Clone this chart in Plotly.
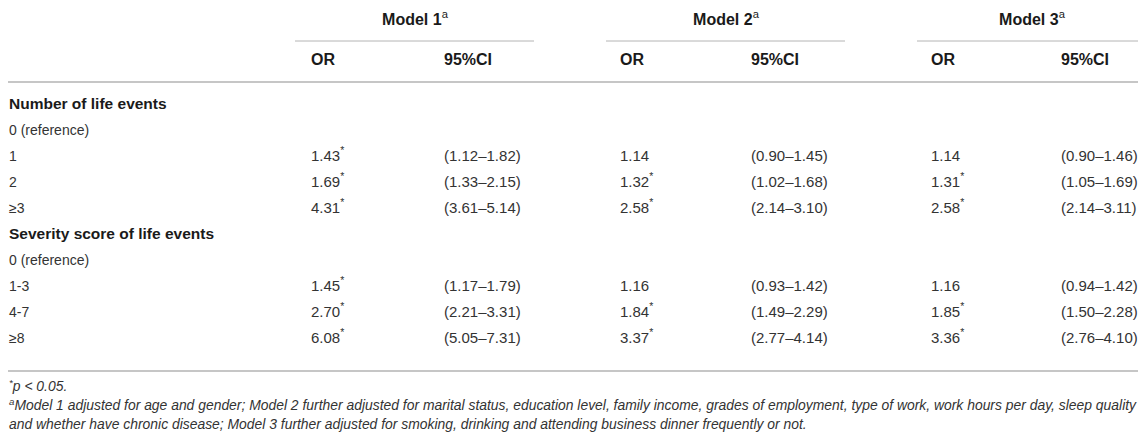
import plotly.graph_objects as go

# table content
row_labels = ["Number of life events", "0 (reference)", "1", "2", "\u22653",
              "Severity score of life events", "0 (reference)", "1-3", "4-7", "\u22658"]
section_rows = [0, 5]

models = ["Model 1", "Model 2", "Model 3"]
sub_headers = ["OR", "95%CI"]

model1_or = ["", "", "1.43*", "1.69*", "4.31*", "", "", "1.45*", "2.70*", "6.08*"]
model1_ci = ["", "", "(1.12\u20131.82)", "(1.33\u20132.15)", "(3.61\u20135.14)", "", "",
             "(1.17\u20131.79)", "(2.21\u20133.31)", "(5.05\u20137.31)"]
model2_or = ["", "", "1.14", "1.32*", "2.58*", "", "", "1.16", "1.84*", "3.37*"]
model2_ci = ["", "", "(0.90\u20131.45)", "(1.02\u20131.68)", "(2.14\u20133.10)", "", "",
             "(0.93\u20131.42)", "(1.49\u20132.29)", "(2.77\u20134.14)"]
model3_or = ["", "", "1.14", "1.31*", "2.58*", "", "", "1.16", "1.85*", "3.36*"]
model3_ci = ["", "", "(0.90\u20131.46)", "(1.05\u20131.69)", "(2.14\u20133.11)", "", "",
             "(0.94\u20131.42)", "(1.50\u20132.28)", "(2.76\u20134.10)"]

footnotes = [
    "<sup>*</sup>p < 0.05.",
    "<sup>a</sup>Model 1 adjusted for age and gender; Model 2 further adjusted for marital status, "
    "education level, family income, grades of employment, type of work, work hours per day, sleep quality",
    "and whether have chronic disease; Model 3 further adjusted for smoking, drinking and attending "
    "business dinner frequently or not.",
]

# layout constants, in screen pixels (page body has an 8px margin)
W, H = 1146, 432
OFF = 8
FONT = "Liberation Sans, Arial, sans-serif"
DARK = "#1a1a1a"
TEXT = "#333333"
THICK_LINE = "#c6c6c6"
THIN_LINE = "#b4b4b4"

label_x = 9
or_x = [311, 620, 931]
ci_x = [444, 751, 1061]
group_span = [(295, 534), (606, 845), (917, W + OFF)]
row_top, row_step = 105, 26.0
row_y = [row_top + i * row_step for i in range(len(row_labels))]
model_y, sub_y = 21, 61
foot_y = [388, 407, 426]


def star(s):
    return s.replace("*", "<sup>*</sup>")


def text_trace(xs, ys, texts, size, color, pos="middle right"):
    keep = [(x, y, t) for x, y, t in zip(xs, ys, texts) if t]
    return go.Scatter(
        x=[k[0] for k in keep], y=[k[1] for k in keep], text=[k[2] for k in keep],
        mode="text", textposition=pos, cliponaxis=False,
        textfont=dict(family=FONT, size=size, color=color),
        hoverinfo="skip", showlegend=False)


fig = go.Figure()

# row labels: section headers bold, items regular
sec = [i for i in range(len(row_labels)) if i in section_rows]
items = [i for i in range(len(row_labels)) if i not in section_rows]
fig.add_trace(text_trace([label_x] * len(sec), [row_y[i] for i in sec],
                         ["<b>%s</b>" % row_labels[i] for i in sec], 15.5, DARK))
fig.add_trace(text_trace([label_x] * len(items), [row_y[i] for i in items],
                         [row_labels[i] for i in items], 14, TEXT))

# model columns
for k, (ors, cis) in enumerate([(model1_or, model1_ci), (model2_or, model2_ci), (model3_or, model3_ci)]):
    fig.add_trace(text_trace([or_x[k]] * len(ors), row_y, [star(v) for v in ors], 15, TEXT))
    fig.add_trace(text_trace([ci_x[k]] * len(cis), row_y, cis, 15, TEXT))

# headers
fig.add_trace(text_trace([(a + min(b, W)) / 2 + 0.5 for a, b in group_span], [model_y] * len(models),
                         ["<b>%s</b><sup>a</sup>" % m for m in models], 16, DARK, "middle center"))
fig.add_trace(text_trace(or_x + ci_x, [sub_y] * 6,
                         ["<b>%s</b>" % sub_headers[0]] * 3 + ["<b>%s</b>" % sub_headers[1]] * 3,
                         16, DARK))

# footnotes
fig.add_trace(text_trace([label_x] * len(footnotes), foot_y,
                         ["<i>%s</i>" % f for f in footnotes], 13.9, TEXT))

# rules
shapes = []
for y0 in (4, 82, 371):
    shapes.append(dict(type="line", x0=0, x1=W + OFF, y0=y0, y1=y0, xref="x", yref="y",
                       line=dict(color=THICK_LINE, width=2)))
for a, b in group_span:
    shapes.append(dict(type="line", x0=a, x1=b, y0=41, y1=41, xref="x", yref="y",
                       line=dict(color=THIN_LINE, width=1)))

fig.update_layout(
    width=W, height=H, margin=dict(l=0, r=0, t=0, b=0),
    paper_bgcolor="white", plot_bgcolor="white", shapes=shapes,
    xaxis=dict(range=[OFF, W + OFF], visible=False, fixedrange=True),
    yaxis=dict(range=[H + OFF, OFF], visible=False, fixedrange=True),
)

fig.write_html("out.html")
